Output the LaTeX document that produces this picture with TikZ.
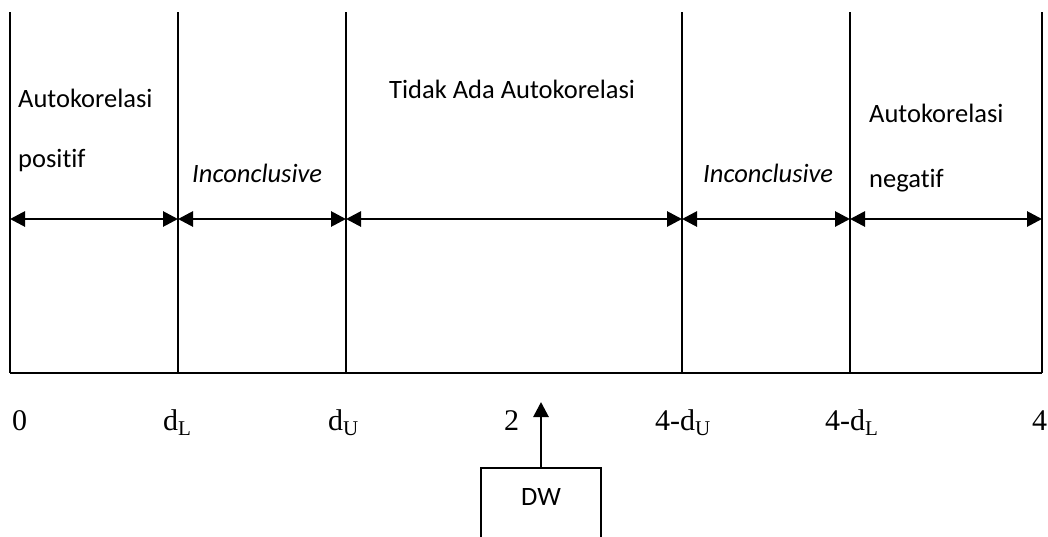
\documentclass[tikz,border=0pt]{standalone}
\usepackage{fontspec}
\setmainfont{Carlito}[Ligatures=CommonOff]
\newfontfamily\timesfont{Liberation Serif}
\usetikzlibrary{arrows.meta}

\begin{document}
\begin{tikzpicture}[
    x=1pt, y=-1pt,
    bound/.style={draw, line width=1.6pt},
    span/.style={draw, line width=2.8pt, {Triangle[length=15pt,width=15pt]}-{Triangle[length=15pt,width=15pt]}},
    up/.style={draw, line width=2.8pt, -{Triangle[length=15pt,width=15pt]}},
    region/.style={font=\fontsize{26.5}{30}\selectfont, inner sep=0pt, anchor=base west},
    tick/.style={font=\timesfont\fontsize{30}{34}\selectfont, inner sep=0pt, anchor=base west},
    dwbox/.style={draw, line width=1.6pt, anchor=north, minimum width=120pt, inner xsep=0pt, inner ysep=21pt, text depth=60pt, font=\fontsize{26.5}{30}\selectfont}
]
    \clip (0,0) rectangle (1048,536);

    \coordinate (t0) at (10,12);
    \coordinate (t1) at (178,12);
    \coordinate (t2) at (346,12);
    \coordinate (t3) at (682,12);
    \coordinate (t4) at (850,12);
    \coordinate (t5) at (1042,12);

    \coordinate (b0) at (10,373);
    \coordinate (b1) at (178,373);
    \coordinate (b2) at (346,373);
    \coordinate (b3) at (682,373);
    \coordinate (b4) at (850,373);
    \coordinate (b5) at (1042,373);

    \coordinate (a0) at (10,219);
    \coordinate (a1) at (178,219);
    \coordinate (a2) at (346,219);
    \coordinate (a3) at (682,219);
    \coordinate (a4) at (850,219);
    \coordinate (a5) at (1042,219);

    \draw [bound] (t0) -- (b0);
    \draw [bound] (t1) -- (b1);
    \draw [bound] (t2) -- (b2);
    \draw [bound] (t3) -- (b3);
    \draw [bound] (t4) -- (b4);
    \draw [bound] (t5) -- (b5);
    \draw [bound] (b0) -- (b5);

    \draw [span] (a0) -- (a1);
    \draw [span] (a1) -- (a2);
    \draw [span] (a2) -- (a3);
    \draw [span] (a3) -- (a4);
    \draw [span] (a4) -- (a5);

    \node [region] (pos1) at (18,107) {Autokorelasi};
    \node [region] (pos2) at (18,167) {positif};
    \node [region] (inc1) at (192,182) {\itshape Inconclusive};
    \node [region] (none) at (389,98) {Tidak Ada Autokorelasi};
    \node [region] (inc2) at (703,182) {\itshape Inconclusive};
    \node [region] (neg1) at (869,122) {Autokorelasi};
    \node [region] (neg2) at (869,187) {negatif};

    \node [tick] (zero) at (12,430) {0};
    \node [tick] (dl) at (163,430) {d\textsubscript{L}};
    \node [tick] (du) at (328,430) {d\textsubscript{U}};
    \node [tick] (two) at (504,430) {2};
    \node [tick] (fdu) at (655,430) {4-d\textsubscript{U}};
    \node [tick] (fdl) at (825,430) {4-d\textsubscript{L}};
    \node [tick] (four) at (1032,430) {4};

    \node [dwbox] (dw) at (541,467) {DW};
    \coordinate (dwtip) at (541,402);
    \draw [up] (dw.north) -- (dwtip);
\end{tikzpicture}
\end{document}
